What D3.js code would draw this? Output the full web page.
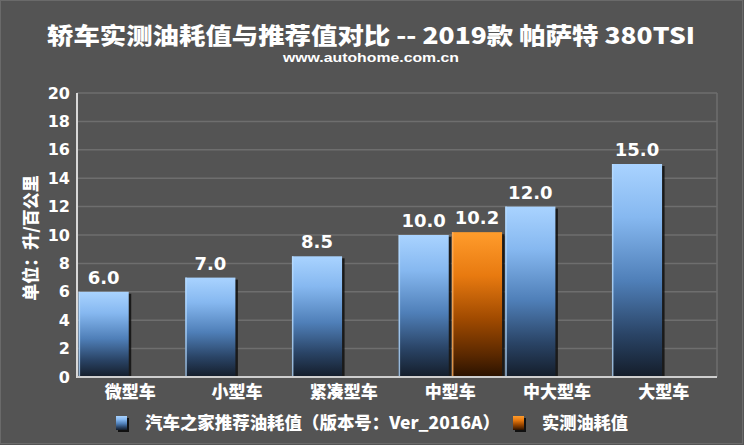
<!DOCTYPE html>
<html><head><meta charset="utf-8">
<script src="https://cdn.jsdelivr.net/npm/d3@7"></script>
<style>html,body{margin:0;padding:0;background:#545454;}svg{display:block;}</style>
</head><body>
<script>
const categories = ["微型车","小型车","紧凑型车","中型车","中大型车","大型车"];
const recommended = [6.0, 7.0, 8.5, 10.0, 12.0, 15.0];
const measured = [null, null, null, 10.2, null, null];
const seriesNames = ["汽车之家推荐油耗值（版本号：Ver_2016A）","实测油耗值"];
const yTicks = [0,2,4,6,8,10,12,14,16,18,20];
const title = "轿车实测油耗值与推荐值对比 -- 2019款 帕萨特 380TSI";
const subtitle = "www.autohome.com.cn";
const yLabel = "单位：升/百公里";

const W=744,H=445;
const m={l:77,r:27,t:93,b:68};
const svg=d3.select("body").append("svg").attr("width",W).attr("height",H);
const defs=svg.append("defs");
function grad(id,stops){
  const g=defs.append("linearGradient").attr("id",id).attr("x1",0).attr("y1",0).attr("x2",0).attr("y2",1);
  stops.forEach(s=>g.append("stop").attr("offset",s[0]).attr("stop-color",s[1]));
}
grad("gBlue",[[0,"#a9d3ff"],[0.25,"#86b8f0"],[0.55,"#4f7fb8"],[0.8,"#2a4466"],[1,"#141d2a"]]);
grad("gOrange",[[0,"#ff9c2c"],[0.3,"#e87a10"],[0.6,"#a04a00"],[0.85,"#5a2800"],[1,"#2a1200"]]);

svg.append("rect").attr("width",W).attr("height",H).attr("fill","#545454");
svg.append("rect").attr("x",0.5).attr("y",0.5).attr("width",W-2).attr("height",H-2).attr("fill","none").attr("stroke","#6a6a6a");

const CJK="'Noto Sans CJK SC','DejaVu Sans',sans-serif";
const NUM="'DejaVu Sans','Noto Sans CJK SC',sans-serif";

const x=d3.scaleBand().domain(categories).range([m.l,W-m.r]);
const xs=d3.scaleBand().domain([0,1]).range([0,x.bandwidth()]).paddingInner(0.06).paddingOuter(0.03);
const y=d3.scaleLinear().domain([0,20]).range([H-m.b,m.t]);

// grid
const grid=svg.append("g");
grid.selectAll("line").data(yTicks.filter(d=>d>0)).join("line")
  .attr("x1",m.l).attr("x2",W-m.r).attr("y1",d=>y(d)).attr("y2",d=>y(d))
  .attr("stroke","#6e6e6e").attr("stroke-width",1.5);
svg.append("line").attr("x1",W-m.r).attr("x2",W-m.r).attr("y1",m.t).attr("y2",y(0))
  .attr("stroke","#6e6e6e").attr("stroke-width",1.5);

// bars
const data=[];
categories.forEach((c,i)=>{
  if(recommended[i]!=null) data.push({c,s:0,v:recommended[i]});
  if(measured[i]!=null) data.push({c,s:1,v:measured[i]});
});
const bars=svg.append("g");
const bx=d=>x(d.c)+xs(d.s);
bars.selectAll("rect.sh").data(data).join("rect").attr("class","sh")
  .attr("x",d=>bx(d)+2.5).attr("y",d=>y(d.v)+2).attr("width",xs.bandwidth()).attr("height",d=>y(0)-y(d.v)-2)
  .attr("fill","#111").attr("opacity",0.85);
bars.selectAll("rect.b").data(data).join("rect").attr("class","b")
  .attr("x",d=>bx(d)).attr("y",d=>y(d.v)).attr("width",xs.bandwidth()).attr("height",d=>y(0)-y(d.v))
  .attr("fill",d=>d.s?"url(#gOrange)":"url(#gBlue)");
bars.selectAll("line.hl").data(data).join("line").attr("class","hl")
  .attr("x1",d=>bx(d)+0.75).attr("x2",d=>bx(d)+0.75).attr("y1",d=>y(d.v)).attr("y2",y(0))
  .attr("stroke",d=>d.s?"#ffb060":"#b8dcff").attr("stroke-width",1.5).attr("opacity",0.8);
bars.selectAll("text").data(data).join("text")
  .attr("x",d=>bx(d)+xs.bandwidth()/2).attr("y",d=>y(d.v)-8)
  .attr("text-anchor","middle").attr("fill","#fff").attr("font-family",NUM).attr("font-weight","bold")
  .attr("font-size",18).text(d=>d.v.toFixed(1));

// axes
const yAxis=svg.append("g").attr("transform",`translate(${m.l},0)`)
  .call(d3.axisLeft(y).tickValues(yTicks).tickSize(0).tickPadding(7));
yAxis.select(".domain").attr("stroke","#d8d8d8").attr("stroke-width",2).attr("d",`M0,${m.t}V${y(0)+1}`);
yAxis.selectAll("text").attr("fill","#fff").attr("font-family",NUM).attr("font-weight","bold").attr("font-size",16);

const xAxis=svg.append("g").attr("transform",`translate(0,${y(0)})`)
  .call(d3.axisBottom(x).tickSize(0).tickPadding(9));
xAxis.select(".domain").attr("stroke","#cfcfcf").attr("stroke-width",2).attr("d",`M${m.l},0H${W-m.r}`);
xAxis.selectAll("text").attr("fill","#fff").attr("font-family",CJK).attr("font-weight",900).attr("font-size",17);

// title
svg.append("text").attr("x",371).attr("y",44).attr("text-anchor","middle").attr("fill","#fff")
  .attr("font-family",CJK).attr("font-weight",900).attr("font-size",23)
  .attr("textLength",648).attr("lengthAdjust","spacingAndGlyphs").text(title);
svg.append("text").attr("x",371).attr("y",62).attr("text-anchor","middle").attr("fill","#fff")
  .attr("font-family","'Liberation Sans',Arial,sans-serif").attr("font-weight","bold").attr("font-size",12)
  .attr("textLength",176).attr("lengthAdjust","spacingAndGlyphs").text(subtitle);

// y label
svg.append("text").attr("transform","translate(37,238) rotate(-90)").attr("text-anchor","middle")
  .attr("fill","#fff").attr("font-family",CJK).attr("font-weight",900).attr("font-size",17).text(yLabel);

// legend
const leg=[{x:116,tx:145,tl:355,g:"url(#gBlue)",t:seriesNames[0]},{x:513,tx:542,tl:86,g:"url(#gOrange)",t:seriesNames[1]}];
const lg=svg.append("g");
leg.forEach(l=>{
  lg.append("rect").attr("x",l.x+2).attr("y",418).attr("width",11).attr("height",14).attr("fill","#111");
  lg.append("rect").attr("x",l.x).attr("y",416).attr("width",11).attr("height",14).attr("fill",l.g);
  lg.append("text").attr("x",l.tx).attr("y",429).attr("fill","#fff").attr("font-family",CJK)
    .attr("font-weight",900).attr("font-size",17).attr("textLength",l.tl).attr("lengthAdjust","spacingAndGlyphs").text(l.t);
});
</script>
</body></html>
